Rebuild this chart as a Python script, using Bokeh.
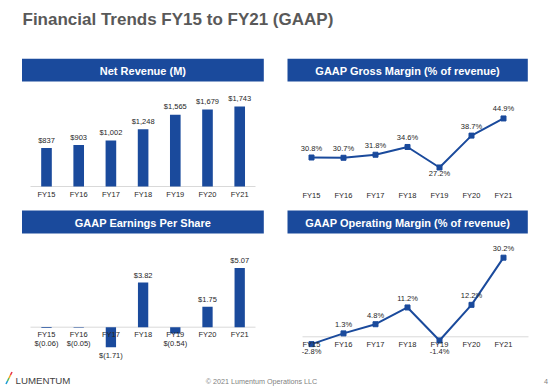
from bokeh.plotting import figure
from bokeh.models import Range1d
from bokeh.core.properties import value
from bokeh.embed import file_html
from bokeh.resources import INLINE

# ---------------- data ----------------
years = ["FY15", "FY16", "FY17", "FY18", "FY19", "FY20", "FY21"]
net_revenue = [837, 903, 1002, 1248, 1565, 1679, 1743]          # $M
gross_margin = [30.8, 30.7, 31.8, 34.6, 27.2, 38.7, 44.9]        # %
eps = [-0.06, -0.05, -1.71, 3.82, -0.54, 1.75, 5.07]             # $
operating_margin = [-2.8, 1.3, 4.8, 11.2, -1.4, 12.2, 30.2]      # %

title_text = "Financial Trends FY15 to FY21 (GAAP)"
panel_titles = ["Net Revenue (M)", "GAAP Gross Margin (% of revenue)",
                "GAAP Earnings Per Share", "GAAP Operating Margin (% of revenue)"]
footer_text = "\u00a9 2021 Lumentum Operations LLC"
brand_text = "LUMENTUM"
page_number = "4"

# ---------------- style / geometry ----------------
W, H = 550, 391
FONT = value("Liberation Sans")
BLUE = "#1a4a9c"
TXT = "#262626"
idx = list(range(len(years)))


def x_range_for(c0, dx):
    start = -c0 / dx
    return Range1d(start, start + W / dx)


def y_range_for(anchor_v, anchor_px, k):
    return Range1d(anchor_v - (H - anchor_px) / k, anchor_v + anchor_px / k)


k_rev, k_gm, k_eps, k_om = 80 / 1743, 2.77, 11.7, 2.62

p = figure(width=W, height=H, x_range=Range1d(0, W), y_range=Range1d(H, 0),
           x_axis_type=None, y_axis_type=None, min_border=0,
           output_backend="svg", toolbar_location=None,
           outline_line_color=None, background_fill_color="white")
p.extra_x_ranges = {"L": x_range_for(46, 32.2), "R": x_range_for(311, 32)}
p.extra_y_ranges = {"rev": y_range_for(0, 186, k_rev),
                    "gm": y_range_for(30.8, 157, k_gm),
                    "eps": y_range_for(0, 326.7, k_eps),
                    "om": y_range_for(0, 336.3, k_om)}

# title
p.text(x=[22], y=[18.5], text=[title_text], text_font=FONT, text_font_size="17px",
       text_font_style="bold", text_color="#595959", text_baseline="alphabetic")

# panel header boxes
boxes = [(21.5, 263.3, 58.3, 81), (287, 527.3, 58.3, 81),
         (21.5, 263.3, 210, 233), (287, 527.3, 210, 233)]
p.quad(left=[b[0] for b in boxes], right=[b[1] for b in boxes],
       top=[b[2] for b in boxes], bottom=[b[3] for b in boxes],
       fill_color=BLUE, line_color=None)
p.text(x=[(b[0] + b[1]) / 2 for b in boxes], y=[(b[2] + b[3]) / 2 + 0.5 for b in boxes],
       text=panel_titles, text_font=FONT, text_font_size="11px", text_font_style="bold",
       text_color="white", text_align="center", text_baseline="middle")

label_kw = dict(text_font=FONT, text_font_size="7.5px", text_color=TXT,
                text_align="center", text_baseline="middle")

# ---- Net revenue (bars) ----
p.segment(x0=[30], x1=[255], y0=[0], y1=[0], y_range_name="rev",
          line_color="#d9d9d9", line_width=1)
p.vbar(x=idx, top=net_revenue, bottom=0, width=0.33, x_range_name="L",
       y_range_name="rev", fill_color=BLUE, line_color=None)
p.text(x=idx, y=[v + 7.7 / k_rev for v in net_revenue],
       text=[f"${v:,}" for v in net_revenue], x_range_name="L", y_range_name="rev", **label_kw)
p.text(x=idx, y=[194] * len(years), text=years, x_range_name="L", **label_kw)

# ---- Gross margin (line) ----
p.line(x=idx, y=gross_margin, x_range_name="R", y_range_name="gm",
       line_color=BLUE, line_width=2)
p.scatter(x=idx, y=gross_margin, marker="square", size=5, x_range_name="R",
          y_range_name="gm", fill_color=BLUE, line_color=BLUE)
gm_min = min(gross_margin)
p.text(x=idx, y=[v - 6.5 / k_gm if v == gm_min else v + 9.5 / k_gm for v in gross_margin],
       text=[f"{v:.1f}%" for v in gross_margin], x_range_name="R", y_range_name="gm", **label_kw)
p.text(x=idx, y=[195] * len(years), text=years, x_range_name="R", **label_kw)

# ---- EPS (bars) ----
p.segment(x0=[30], x1=[255], y0=[0], y1=[0], y_range_name="eps",
          line_color="#d9d9d9", line_width=1)
p.vbar(x=idx, top=eps, bottom=0, width=0.32, x_range_name="L",
       y_range_name="eps", fill_color=BLUE, line_color=None)
p.text(x=idx, y=[334] * len(years), text=years, x_range_name="L", **label_kw)
p.text(x=idx, y=[v + 7 / k_eps if v >= 0 else min(v - 8 / k_eps, -16 / k_eps) for v in eps],
       text=[f"${v:.2f}" if v >= 0 else f"$({abs(v):.2f})" for v in eps],
       x_range_name="L", y_range_name="eps", **label_kw)

# ---- Operating margin (line) ----
p.segment(x0=[302], x1=[528], y0=[0], y1=[0], y_range_name="om",
          line_color="#d9d9d9", line_width=1)
p.line(x=idx, y=operating_margin, x_range_name="R", y_range_name="om",
       line_color=BLUE, line_width=2)
p.scatter(x=idx, y=operating_margin, marker="square", size=5, x_range_name="R",
          y_range_name="om", fill_color=BLUE, line_color=BLUE)
p.text(x=idx, y=[344.3] * len(years), text=years, x_range_name="R", **label_kw)
p.text(x=idx, y=[v + 9 / k_om if v >= 0 else min(v - 7 / k_om, -15 / k_om) for v in operating_margin],
       text=[f"{v:.1f}%" for v in operating_margin], x_range_name="R", y_range_name="om", **label_kw)

# ---- footer ----
slash_cols = ["#1a9ad6", "#5cb85c", "#f5a623", "#e8334a"]
sx0, sy0, sx1, sy1 = 5.5, 383.5, 11.5, 371.5
n = len(slash_cols)
p.segment(x0=[sx0 + (sx1 - sx0) * i / n for i in range(n)],
          y0=[sy0 + (sy1 - sy0) * i / n for i in range(n)],
          x1=[sx0 + (sx1 - sx0) * (i + 1) / n for i in range(n)],
          y1=[sy0 + (sy1 - sy0) * (i + 1) / n for i in range(n)],
          line_color=slash_cols, line_width=1.6)
p.text(x=[15], y=[380], text=[brand_text], text_font=FONT, text_font_size="9.7px",
       text_color="#3f3f3f", text_baseline="middle")
p.text(x=[261], y=[380.5], text=[footer_text], text_font=FONT, text_font_size="7.2px",
       text_color="#7f7f7f", text_align="center", text_baseline="middle")
p.text(x=[547.5], y=[380.5], text=[page_number], text_font=FONT, text_font_size="7.2px",
       text_color="#7f7f7f", text_align="right", text_baseline="middle")

open("out.html", "w").write(file_html(p, INLINE))
